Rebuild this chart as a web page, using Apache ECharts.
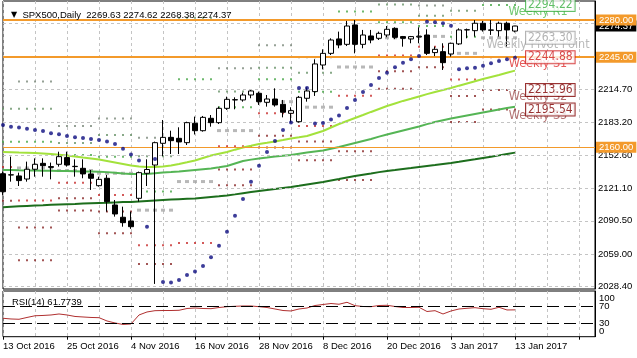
<!DOCTYPE html>
<html><head><meta charset="utf-8">
<script src="https://cdn.jsdelivr.net/npm/echarts@6/dist/echarts.min.js"></script>
<style>html,body{margin:0;padding:0;background:#fff}#c{width:637px;height:358px}</style>
</head><body><div id="c"></div>
<script>
// ---------- DATA ----------
const dates = ['13 Oct 2016','14 Oct 2016','17 Oct 2016','18 Oct 2016','19 Oct 2016','20 Oct 2016','21 Oct 2016','24 Oct 2016','25 Oct 2016','26 Oct 2016','27 Oct 2016','28 Oct 2016','31 Oct 2016','1 Nov 2016','2 Nov 2016','3 Nov 2016','4 Nov 2016','7 Nov 2016','8 Nov 2016','9 Nov 2016','10 Nov 2016','11 Nov 2016','14 Nov 2016','15 Nov 2016','16 Nov 2016','17 Nov 2016','18 Nov 2016','21 Nov 2016','22 Nov 2016','23 Nov 2016','24 Nov 2016','25 Nov 2016','28 Nov 2016','29 Nov 2016','30 Nov 2016','1 Dec 2016','2 Dec 2016','5 Dec 2016','6 Dec 2016','7 Dec 2016','8 Dec 2016','9 Dec 2016','12 Dec 2016','13 Dec 2016','14 Dec 2016','15 Dec 2016','16 Dec 2016','19 Dec 2016','20 Dec 2016','21 Dec 2016','22 Dec 2016','23 Dec 2016','27 Dec 2016','28 Dec 2016','29 Dec 2016','30 Dec 2016','3 Jan 2017','4 Jan 2017','5 Jan 2017','6 Jan 2017','9 Jan 2017','10 Jan 2017','11 Jan 2017','12 Jan 2017','13 Jan 2017'];
const emptySlots = ['pad0','pad1','pad2','pad3','pad4','pad5','pad6','pad7','pad8','pad9'];

const opens  = [2135.0,2133.8,2132.9,2130.0,2139.2,2144.8,2141.7,2143.9,2150.2,2141.7,2140.1,2134.8,2123.7,2130.7,2105.5,2093.9,2090.4,2111.8,2135.4,2143.2,2163.7,2169.3,2168.4,2164.3,2182.6,2175.6,2187.3,2183.2,2196.7,2204.6,2204.6,2209.3,2210.9,2202.4,2205.5,2200.5,2192.0,2184.1,2206.2,2212.5,2237.6,2248.6,2262.2,2257.1,2275.4,2257.1,2265.0,2262.8,2265.9,2272.2,2264.4,2262.2,2264.0,2265.9,2249.3,2250.2,2248.0,2257.5,2270.7,2270.0,2277.0,2270.7,2270.0,2277.0,2269.63];
const highs  = [2137.0,2151.1,2136.0,2146.4,2149.5,2149.5,2145.5,2155.8,2155.8,2148.6,2148.6,2138.5,2132.2,2133.8,2110.2,2103.9,2099.2,2137.0,2148.6,2165.3,2185.7,2175.6,2178.8,2184.1,2188.9,2189.5,2190.4,2198.3,2207.7,2207.1,2211.5,2214.0,2212.5,2209.3,2215.6,2204.6,2197.7,2208.4,2216.5,2243.0,2252.4,2262.8,2269.1,2279.2,2280.1,2270.7,2270.7,2269.1,2274.4,2273.2,2265.0,2265.0,2273.2,2271.3,2254.9,2258.1,2258.7,2272.2,2272.0,2280.0,2279.2,2280.0,2278.5,2278.5,2274.62];
const lows   = [2115.0,2127.5,2123.4,2127.5,2132.2,2132.2,2129.7,2141.7,2141.7,2132.2,2130.7,2119.7,2122.8,2099.2,2094.5,2085.0,2083.0,2108.6,2123.4,2031.0,2151.7,2153.6,2153.6,2162.1,2172.0,2174.7,2179.4,2181.9,2195.2,2195.8,2203.0,2206.2,2199.9,2198.3,2198.3,2188.2,2183.2,2183.2,2203.0,2208.4,2233.5,2247.0,2253.4,2255.5,2248.6,2253.4,2258.1,2261.2,2263.8,2262.0,2254.9,2258.1,2258.1,2247.0,2246.0,2232.9,2245.5,2256.5,2262.8,2264.4,2269.1,2266.0,2264.4,2255.0,2268.38];
const closes = [2118.0,2134.0,2128.5,2139.2,2143.9,2142.6,2141.0,2151.1,2143.2,2142.0,2134.8,2130.7,2129.7,2108.6,2097.0,2088.8,2085.0,2136.0,2139.0,2164.3,2169.3,2166.2,2165.0,2183.2,2175.6,2188.2,2183.2,2196.7,2205.2,2204.9,2209.3,2213.1,2203.0,2205.5,2199.9,2193.0,2194.5,2207.1,2213.1,2238.6,2248.6,2261.2,2256.5,2274.4,2257.1,2265.9,2261.2,2267.5,2271.3,2263.7,2262.8,2264.4,2264.7,2248.6,2252.4,2239.8,2258.1,2270.7,2270.9,2277.0,2270.7,2270.4,2277.0,2270.7,2274.37];

const maFast = [2155.5,2155.3,2155.0,2154.8,2154.6,2154.1,2153.6,2152.9,2152.2,2151.3,2150.3,2149.4,2148.4,2147.0,2145.6,2144.2,2142.8,2141.8,2141.4,2141.4,2141.8,2142.8,2144.2,2145.8,2147.5,2149.9,2152.2,2153.9,2155.5,2157.7,2159.8,2161.4,2163.1,2164.2,2165.4,2166.8,2168.3,2169.4,2170.6,2173.0,2175.3,2178.6,2181.9,2184.8,2187.6,2190.4,2193.3,2196.1,2198.9,2201.3,2203.7,2205.7,2207.9,2210.1,2212.2,2214.0,2215.9,2218.1,2220.2,2222.3,2224.4,2226.3,2228.2,2230.3,2232.3];
const maMid  = [2138.5,2138.4,2138.2,2138.1,2138.0,2137.9,2137.8,2137.6,2137.6,2137.4,2137.2,2137.1,2136.9,2136.5,2135.9,2135.3,2134.8,2134.7,2134.8,2135.4,2136.2,2136.6,2137.1,2137.8,2138.5,2139.2,2139.9,2141.0,2142.3,2144.7,2147.0,2148.3,2149.4,2150.3,2151.3,2152.0,2152.7,2153.9,2155.0,2156.0,2156.9,2158.6,2160.2,2162.1,2164.0,2165.9,2167.8,2170.0,2172.0,2173.9,2175.8,2177.7,2179.6,2181.8,2183.8,2185.5,2187.1,2188.6,2190.0,2191.4,2192.8,2194.2,2195.6,2197.1,2198.3];
const maSlow = [2103.3,2103.8,2104.2,2104.6,2105.0,2105.3,2105.7,2106.0,2106.3,2106.5,2106.8,2107.1,2107.4,2107.6,2107.9,2108.2,2108.3,2108.8,2109.3,2109.8,2110.2,2110.6,2111.0,2111.3,2111.6,2112.3,2113.0,2113.7,2114.5,2115.5,2116.6,2117.7,2118.7,2119.7,2120.6,2121.6,2122.5,2123.6,2124.9,2126.1,2127.2,2128.6,2130.0,2131.5,2132.9,2134.1,2135.2,2136.5,2137.6,2138.5,2139.5,2140.4,2141.4,2142.3,2143.2,2144.2,2145.1,2146.2,2147.5,2148.6,2149.9,2151.1,2152.3,2153.6,2154.9];

const sar = [2181.0,2179.4,2178.5,2177.5,2176.3,2175.3,2173.2,2172.2,2170.6,2169.4,2168.7,2167.8,2166.9,2165.4,2163.1,2158.6,2153.2,2147.5,2085.0,2148.9,2032.8,2032.4,2034.7,2039.4,2042.6,2047.9,2056.1,2067.1,2080.3,2095.4,2111.2,2127.5,2142.6,2155.5,2165.9,2176.3,2183.4,2215.9,2215.9,2182.4,2182.9,2186.2,2190.0,2197.1,2204.6,2212.2,2218.8,2225.4,2230.4,2235.5,2239.8,2243.0,2246.1,2278.5,2277.9,2277.0,2274.7,2233.6,2234.5,2235.1,2237.0,2239.2,2241.4,2243.0,2244.5];

const rsi = [42.4,40.8,40.1,44.3,48.2,48.9,50.0,52.3,50.0,46.6,45.4,44.3,43.8,36.2,31.6,28.2,29.3,50.0,56.9,59.9,60.3,60.3,60.8,64.9,66.1,64.9,64.5,67.2,69.1,70.0,70.7,70.7,69.1,67.2,63.8,60.3,59.2,63.8,66.1,71.8,74.1,76.4,74.7,79.2,71.4,69.5,69.1,71.8,72.3,69.5,67.2,67.2,67.7,58.0,59.9,52.3,59.2,63.8,65.4,66.8,64.5,63.1,67.7,61.5,61.7739];

// weekly pivot levels, one value per week
const weekStart = [0,2,7,12,17,22,27,32,37,42,47,52,56,60];
const weekEnd   = [1,6,11,16,21,26,31,36,41,46,51,55,59,64];
const pivR3 = [null,2222.1,2180.0,2187.2,2169.0,null,2234.6,2256.2,2244.8,null,null,2293.8,null,null];
const pivR2 = [2196.4,2196.4,2164.1,2171.5,2151.4,2282.3,2212.5,2235.1,2230.2,null,2294.8,2284.1,2288.9,null];
const pivR1 = [2165.2,2165.2,2152.6,2151.1,2118.2,2224.2,2197.8,2224.1,2212.4,2288.2,2278.0,2274.3,2264.3,2294.22];
const pivP  = [null,2140.4,2138.0,2135.4,2100.6,2127.6,2175.7,2203.0,2197.8,2235.7,2263.3,2264.6,2248.6,2263.30];
const pivS1 = [2141.3,2109.7,2126.5,2115.0,2067.4,2069.5,2161.0,2192.0,2180.0,2208.6,2246.5,2254.8,2224.0,2244.88];
const pivS2 = [2109.5,2084.3,2111.9,2099.3,2049.8,null,2138.9,2170.9,2165.4,2156.1,2231.8,2245.1,2208.3,2213.96];
const pivS3 = [null,2053.3,2100.4,2078.9,null,null,2124.2,2159.8,2147.6,2129.0,2215.3,2235.4,2183.7,2195.54];

const weeklyNames  = ['Weekly R1','Weekly Pivot Point','Weekly S1','Weekly S2','Weekly S3'];
const weeklyValues = [2294.22, 2263.30, 2244.88, 2213.96, 2195.54];
const weeklyTexts  = ['2294.22','2263.30','2244.88','2213.96','2195.54'];

const priceTicks      = [2028.4, 2059.0, 2090.5, 2121.1, 2152.6, 2183.2, 2214.7, 2245.3, 2276.8];
const priceTickLabels = ['2028.40','2059.00','2090.50','2121.10','2152.60','2183.20','2214.70','',''];
const levelValues = [2280, 2245, 2160];
const levelLabels = ['2280.00','2245.00','2160.00'];
const lastPrice = 2274.37;
const lastPriceLabel = '2274.37';
const rsiLevels = [70, 30];
const rsiLevelLabels = ['70', '30'];
const rsiMax = 100, rsiMin = 0;
const rsiMaxLabel = '100', rsiMinLabel = '0';
const titleText = 'SPX500,Daily  2269.63 2274.62 2268.38 2274.37';
const rsiTitle = 'RSI(14) 61.7739';

// ---------- STYLE ----------
const FONT = '"Liberation Sans", Arial, sans-serif';
const NARROW = '"Liberation Sans Narrow", "DejaVu Sans Condensed", "Liberation Sans", sans-serif';
const ORANGE = '#f39a2b';
const GRIDC = '#c4c4c4';
const CLEAR = 'rgba(0,0,0,0)';

const cats = dates.concat(emptySlots);
const candles = opens.map((o, i) => [o, closes[i], lows[i], highs[i]]);
function levelDots(levels) {
  const out = [];
  levels.forEach((v, w) => {
    if (v == null) return;
    for (let i = weekStart[w]; i <= weekEnd[w]; i++) out.push([i, v]);
  });
  return out;
}
function xAxisCfg(gi, showLabels) {
  return {
    type: 'category', gridIndex: gi, data: cats, boundaryGap: false,
    axisLine: { show: false },
    axisTick: showLabels ? { show: true, interval: 7, length: 3, lineStyle: { color: '#000' } } : { show: false },
    axisLabel: showLabels ? { show: true, interval: 7, align: 'left', margin: 5, fontSize: 9.5, color: '#000', fontFamily: FONT,
      formatter: v => (v.indexOf('pad') === 0 ? '' : v) } : { show: false },
    splitLine: { show: true, interval: 3, lineStyle: { color: GRIDC, type: [3, 3], width: 1 } }
  };
}
function dotSeries(levels, color, size, z) {
  return { type: 'scatter', xAxisIndex: 0, yAxisIndex: 0, data: levelDots(levels), symbol: 'rect',
    symbolSize: size, itemStyle: { color: color }, z: z, silent: true };
}
function maSeries(data, color, z) {
  return { type: 'line', xAxisIndex: 0, yAxisIndex: 0, data: data, showSymbol: false, symbol: 'none',
    lineStyle: { color: color, width: 2 }, z: z, silent: true };
}
function rsiLabelAxis(show, vAlign) {
  return { type: 'value', gridIndex: 1, position: 'right', min: 0, max: 105.2, interval: 100,
    axisLine: { show: false }, axisTick: { show: false }, splitLine: { show: false },
    axisLabel: { show: true, margin: 4, fontSize: 9.5, color: '#000', fontFamily: FONT, verticalAlign: vAlign,
      showMaxLabel: false,
      formatter: v => (v === show ? (v === rsiMax ? rsiMaxLabel : rsiMinLabel) : '') } };
}

const gridLines = priceTicks.map((v, k) => ({
  yAxis: v,
  label: { show: priceTickLabels[k] !== '', formatter: priceTickLabels[k] }
}));

const option = {
  animation: false,
  backgroundColor: '#fff',
  textStyle: { fontFamily: FONT },
  title: [
    { text: '{t|▼}  ' + titleText, left: 6, top: 5,
      textStyle: { fontSize: 9.5, fontWeight: 'normal', color: '#000', fontFamily: FONT,
        rich: { t: { fontSize: 8, color: '#000', fontFamily: '"DejaVu Sans", sans-serif' } } } },
    { text: rsiTitle, left: 7, top: 292,
      textStyle: { fontSize: 9.5, fontWeight: 'normal', color: '#000', fontFamily: FONT } }
  ],
  grid: [
    { left: 3, right: 42, top: 1, height: 288, show: true, borderColor: '#000', borderWidth: 1, backgroundColor: '#fff' },
    { left: 3, right: 42, top: 291, height: 45.7, show: true, borderColor: '#000', borderWidth: 1, backgroundColor: '#fff' }
  ],
  xAxis: [xAxisCfg(0, false), xAxisCfg(1, true)],
  yAxis: [
    { type: 'value', gridIndex: 0, position: 'right', min: 2026.2, max: 2298.0, scale: true,
      axisLine: { show: true, lineStyle: { color: '#000' } }, axisTick: { show: false },
      axisLabel: { show: false }, splitLine: { show: false } },
    { type: 'value', gridIndex: 1, position: 'right', min: 0, max: 105.2,
      axisLine: { show: true, lineStyle: { color: '#000' } }, axisTick: { show: false },
      axisLabel: { show: false }, splitLine: { show: false } },
    rsiLabelAxis(rsiMax, 'top'),
    rsiLabelAxis(rsiMin, 'bottom')
  ],
  series: [
    // gridlines + price axis labels
    { type: 'line', xAxisIndex: 0, yAxisIndex: 0, data: closes, showSymbol: false, symbol: 'none',
      lineStyle: { color: CLEAR, width: 1 }, z: 1, silent: true,
      markLine: { silent: true, symbol: ['none', 'none'], animation: false,
        lineStyle: { color: GRIDC, type: [3, 3], width: 1 },
        label: { position: 'end', distance: 3, color: '#000', fontSize: 9.5, fontFamily: FONT },
        data: gridLines } },
    // horizontal level lines
    { type: 'line', xAxisIndex: 0, yAxisIndex: 0, data: closes, showSymbol: false, symbol: 'none',
      lineStyle: { color: CLEAR, width: 1 }, z: 2, silent: true,
      markLine: { silent: true, symbol: ['none', 'none'], animation: false,
        label: { position: 'end', distance: 1, fontSize: 9.5, fontFamily: FONT, padding: [1, 3, 0, 3] },
        data: [
          { yAxis: lastPrice, lineStyle: { color: CLEAR, width: 1, type: 'solid' },
            label: { formatter: lastPriceLabel, color: '#fff', backgroundColor: '#000' } }
        ].concat(levelValues.map((v, k) => ({
          yAxis: v,
          lineStyle: { color: ORANGE, width: k < 2 ? 2 : 1, type: 'solid' },
          label: { formatter: levelLabels[k], color: '#fff', backgroundColor: ORANGE }
        }))) } },
    // weekly pivot dots
    dotSeries(pivR3, '#7c8a7c', [2, 2], 3),
    dotSeries(pivR2, '#6a946a', [2, 2], 3),
    dotSeries(pivR1, '#4aa84a', [2, 2], 3),
    dotSeries(pivP, '#a6a6a6', [4, 3], 3),
    dotSeries(pivS1, '#c83030', [2, 2], 3),
    dotSeries(pivS2, '#8b2a2a', [2, 2], 3),
    dotSeries(pivS3, '#8b2a2a', [2, 2], 3),
    // moving averages
    maSeries(maSlow, '#1d6e1d', 4),
    maSeries(maMid, '#55b555', 4),
    maSeries(maFast, '#a3e23c', 4),
    // candles
    { type: 'candlestick', xAxisIndex: 0, yAxisIndex: 0, data: candles, barWidth: 5, z: 5, silent: true,
      itemStyle: { color: '#fff', color0: '#000', borderColor: '#000', borderColor0: '#000', borderWidth: 1 } },
    // parabolic SAR
    { type: 'scatter', xAxisIndex: 0, yAxisIndex: 0, data: sar.map((v, i) => [i, v]), symbol: 'circle',
      symbolSize: 4, itemStyle: { color: '#0c0c80' }, z: 6, silent: true },
    // weekly labels: names
    { type: 'scatter', xAxisIndex: 0, yAxisIndex: 0, symbolSize: 0, z: 7, silent: true,
      data: weeklyValues.map((v, k) => ({
        value: [dates.length - 1, v],
        label: { show: true, position: 'inside', offset: [23, 6.5], formatter: weeklyNames[k],
          fontSize: 12.5, fontFamily: NARROW,
          color: ['#4cbb4c', '#a8a8a8', '#e03030', '#a05050', '#a05050'][k] }
      })) },
    // weekly labels: value boxes
    { type: 'scatter', xAxisIndex: 0, yAxisIndex: 0, symbolSize: 0, z: 8, silent: true,
      data: weeklyValues.map((v, k) => ({
        value: [dates.length - 1, v],
        label: { show: true, position: 'right', distance: 11, formatter: weeklyTexts[k],
          fontSize: 12, fontFamily: NARROW, padding: [0, 2, 0, 2], backgroundColor: '#fff', borderWidth: 1,
          color: ['#3cb043', '#a0a0a0', '#d02020', '#800000', '#800000'][k],
          borderColor: ['#3cb043', '#a0a0a0', '#d02020', '#800000', '#800000'][k] }
      })) },
    // RSI
    { type: 'line', xAxisIndex: 1, yAxisIndex: 1, data: rsi, showSymbol: false, symbol: 'none',
      lineStyle: { color: '#b03030', width: 1 }, z: 3, silent: true,
      markLine: { silent: true, symbol: ['none', 'none'], animation: false,
        lineStyle: { color: '#000', type: [12, 5], width: 1 },
        label: { position: 'end', distance: 4, color: '#000', fontSize: 9.5, fontFamily: FONT },
        data: rsiLevels.map((v, k) => ({ yAxis: v, label: { formatter: rsiLevelLabels[k] } })) } }
  ]
};
const chart = echarts.init(document.getElementById('c'), null, { renderer: 'canvas' });
chart.setOption(option);
</script>
</body></html>
